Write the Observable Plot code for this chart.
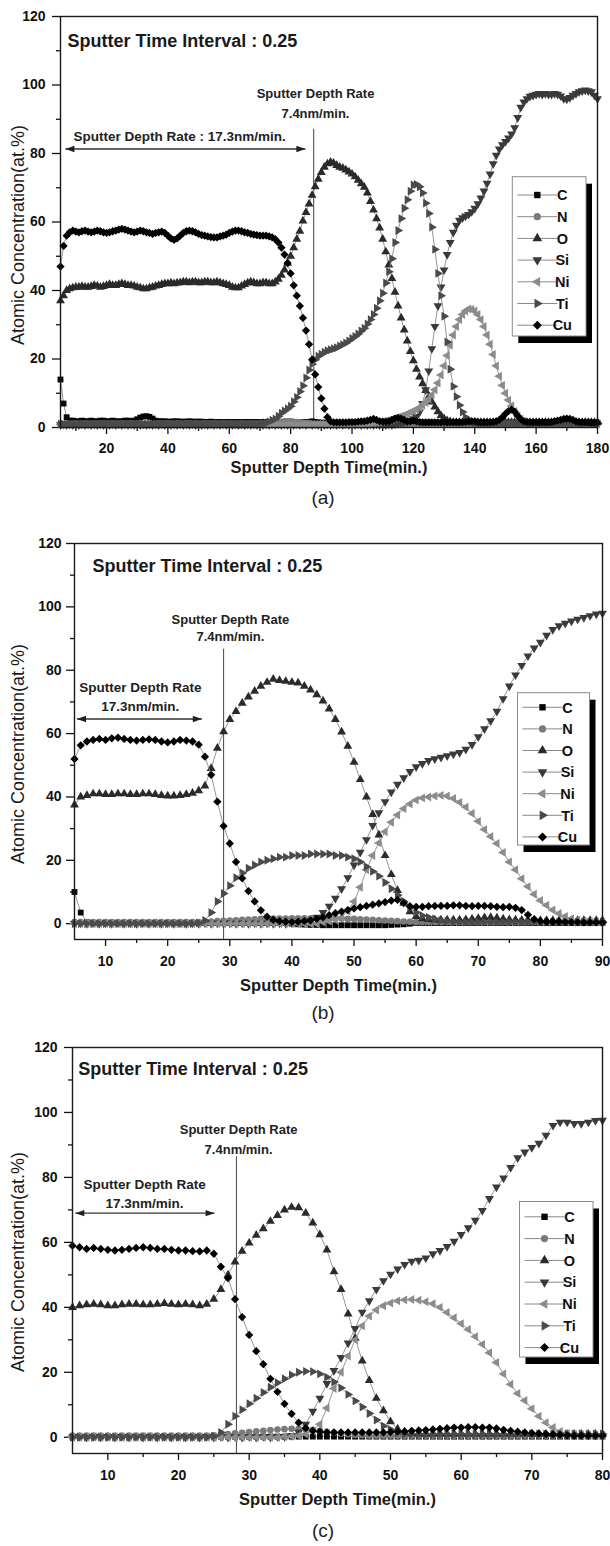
<!DOCTYPE html>
<html><head><meta charset="utf-8">
<script src="https://cdn.jsdelivr.net/npm/d3@7"></script>
<script src="https://cdn.jsdelivr.net/npm/@observablehq/plot@0.6"></script>
<style>
body{margin:0;background:#fff;width:610px;height:1546px;position:relative;overflow:hidden;font-family:"Liberation Sans",Arial,sans-serif}
.panel{position:absolute;left:0}
.cap{position:absolute;width:80px;text-align:center;font-size:19px;line-height:22px;color:#222}
</style></head><body>
<div id="pa" class="panel" style="top:0px"></div>
<div id="pb" class="panel" style="top:505px"></div>
<div id="pc" class="panel" style="top:1010px"></div>
<div class="cap" style="left:283px;top:487px">(a)</div>
<div class="cap" style="left:283px;top:1002px">(b)</div>
<div class="cap" style="left:283px;top:1520px">(c)</div>
<script>
// ---------- series names ----------
const elements = ["C","N","O","Si","Ni","Ti","Cu"];

// ---------- tick labels ----------
const xMajorA = [20,40,60,80,100,120,140,160,180];
const xMinorA = [10,30,50,70,90,110,130,150,170];
const xMajorB = [10,20,30,40,50,60,70,80,90];
const xMinorB = [15,25,35,45,55,65,75,85];
const xMajorC = [10,20,30,40,50,60,70,80];
const xMinorC = [15,25,35,45,55,65,75];
const yMajor = [0,20,40,60,80,100,120];
const yMinor = [10,30,50,70,90,110];

// ---------- panel (a): sputter time 5..180 min ----------
const timeA = d3.range(5, 181);
const C_a = [14,7,3,2,2,1.8,1.8,2,1.8,1.8,
 2,1.8,1.8,2,2,1.8,1.8,2,1.8,1.8,
 1.8,2,2,1.8,2,2.4,2.9,3.2,3.3,3.1,
 2.6,2,1.8,1.8,1.8,1.7,1.7,1.8,1.8,1.7,
 1.7,1.7,1.8,1.7,1.7,1.7,1.7,1.6,1.6,1.7,
 1.6,1.6,1.6,1.6,1.6,1.6,1.6,1.6,1.6,1.6,
 1.6,1.6,1.6,1.6,1.6,1.6,1.6,1.6,1.6,1.6,
 1.6,1.6,1.6,1.6,1.6,1.6,1.6,1.6,1.6,1.6,
 1.6,1.6,1.8,1.6,1.5,1.4,1.4,1.3,1.3,1.3,
 1.3,1.3,1.3,1.3,1.3,1.3,1.3,1.3,1.3,1.3,
 1.3,1.3,1.5,1.5,1.3,1.3,1.3,1.3,1.3,1.5,
 1.8,1.8,1.6,1.5,1.5,1.5,1.5,1.5,1.4,1.4,
 1.4,1.4,1.4,1.4,1.4,1.4,1.4,1.4,1.4,1.4,
 1.4,1.4,1.4,1.4,1.4,1.4,1.4,1.4,1.4,1.4,
 1.4,1.4,1.4,1.4,1.4,1.4,1.4,1.4,1.4,1.4,
 1.5,1.4,1.4,1.4,1.4,1.4,1.4,1.4,1.4,1.4,
 1.4,1.4,1.5,1.8,2,2,1.8,1.5,1.4,1.4,
 1.4,1.4,1.4,1.4,1.4,1.4];
const N_a = [1,1,1.1,1,1,1.1,1,1,1.1,1,
 1,1.1,1,1,1.1,1,1,1.1,1,1,
 1.1,1,1,1.1,1,1,1.1,1,1,1.1,
 1,1,1.1,1,1,1.1,1,1,1.1,1,
 1,1.1,1,1,1.1,1,1,1.1,1,1,
 1.1,1,1,1.1,1,1,1.1,1,1,1.1,
 1,1,1.1,1,1,1.1,1,1.2,1.3,1.4,
 1.5,1.6,1.7,1.8,1.8,1.8,1.7,1.6,1.5,1.4,
 1.3,1.2,1.1,1,1,1,1,1,1,1,
 1,1.1,1,1,1.1,1,1,1.1,1,1,
 1,1.1,1,1,1.1,1,1,1.1,1,1,
 1,1.1,1,1,1.1,1,1,1.1,1,1,
 1,1.1,1,1,1.1,1,1,1.1,1,1,
 1,1.1,1,1,1.1,1,1,1.1,1,1,
 1,1.1,1,1,1.1,1,1,1.1,1,1,
 1,1.1,1,1,1.1,1,1,1.1,1,1,
 1,1.1,1,1,1.1,1,1,1.1,1,1,
 1,1.1,1,1,1.1,1];
const O_a = [37,38.5,40,40.5,40.8,41,41,41.2,41,41,
 41.2,41.5,41.3,41,41.2,41.5,41.8,41.5,41.5,41.8,
 42,41.8,41.5,41.5,41.3,41,40.8,40.5,40.5,40.8,
 41,41.3,41.5,41.8,42,42,42.2,42,42.2,42.3,
 42.5,42.5,42.3,42.5,42.5,42.3,42.3,42.5,42.5,42.3,
 42.3,42.5,42.3,42,41.8,41.5,41,40.8,40.8,41.3,
 41.8,42.2,42.5,42.3,42,42,42.3,42.3,42,42,
 42.5,43.3,44.5,46,48,50,52.5,55,57.3,60.3,
 62.8,65.3,67.8,70.3,72.5,74.5,76,77,77.5,77.2,
 76.5,76,75.7,75.2,74.6,74,73.2,72.2,71.2,70.2,
 68.5,66,63.5,61,58.3,55,51.3,47.5,43.5,39.5,
 35.5,32,28.5,25.3,22.2,19.5,17,14.8,12.8,10.8,
 9,7.5,6,4.6,3.5,2.6,2,1.7,1.5,1.5,
 1.5,1.5,1.5,1.5,1.5,1.5,1.5,1.5,1.5,1.5,
 1.5,1.5,1.5,1.5,1.5,1.5,1.5,1.5,1.5,1.5,
 1.5,1.5,1.5,1.5,1.5,1.5,1.5,1.5,1.5,1.5,
 1.5,1.5,1.5,1.5,1.5,1.5,1.5,1.5,1.5,1.5,
 1.5,1.5,1.5,1.5,1.5,1.5];
const Si_a = [0.8,1,0.8,1,0.8,1,0.8,1,0.8,1,
 0.8,1,0.8,1,0.8,1,0.8,1,0.8,1,
 0.8,1,0.8,1,0.8,1,0.8,1,0.8,1,
 0.8,1,0.8,1,0.8,1,0.8,1,0.8,1,
 0.8,1,0.8,1,0.8,1,0.8,1,0.8,1,
 0.8,1,0.8,1,0.8,1,0.8,1,0.8,1,
 0.8,1,0.8,1,0.8,1,0.8,1,0.8,1,
 0.8,1,0.8,1,0.8,1,0.8,1,0.8,1,
 0.8,1,0.8,1,0.8,1,0.8,1,0.8,1,
 0.8,1,0.8,1,0.8,1,0.8,1,0.8,1,
 0.8,1,0.8,1,0.8,1,0.8,1,0.8,1,
 1.2,1.3,1.5,1.7,2,2.5,3.2,4.5,7,11,
 16.5,23,29.5,35.5,41,46,50.5,54,57,59,
 60.5,61.2,61.7,62.2,63,64,65.3,67,69,71.3,
 74,77,79.5,81.3,82.5,83.5,84.5,85.7,87.5,90.5,
 93.5,95,96,96.7,97,97.3,97.5,97.3,97.5,97.3,
 97.3,97.5,97.3,96.8,96,95.9,96.3,97,97.5,98,
 98.3,98.5,98.3,98,97,96];
const Ni_a = [0.9,0.9,0.9,0.9,0.9,0.9,0.9,0.9,0.9,0.9,
 0.9,0.9,0.9,0.9,0.9,0.9,0.9,0.9,0.9,0.9,
 0.9,0.9,0.9,0.9,0.9,0.9,0.9,0.9,0.9,0.9,
 0.9,0.9,0.9,0.9,0.9,0.9,0.9,0.9,0.9,0.9,
 0.9,0.9,0.9,0.9,0.9,0.9,0.9,0.9,0.9,0.9,
 0.9,0.9,0.9,0.9,0.9,0.9,0.9,0.9,0.9,0.9,
 0.9,0.9,0.9,0.9,0.9,0.9,0.9,0.9,0.9,0.9,
 0.9,0.9,0.9,0.9,0.9,0.9,0.9,0.9,0.9,0.9,
 0.9,0.9,0.9,0.9,0.9,0.9,0.9,0.9,0.9,0.9,
 0.9,0.9,0.9,0.9,0.9,0.9,0.9,0.9,0.9,1,
 1.1,1.2,1.3,1.4,1.5,1.7,1.9,2.1,2.4,2.7,
 3,3.3,3.6,4,4.4,4.8,5.3,5.8,6.5,7.3,
 8.3,9.5,11,13,15.3,18,21,24,27,29.5,
 31.5,33,34,34.6,34.5,34,33,31.5,29.5,27,
 24.3,21.3,18,15,12.3,10,8,6.3,4.7,3.4,
 2.4,1.8,1.4,1.2,1.1,1,1,1,1,1,
 1,1,1,1,1,1,1,1,1,1,
 1,1,1,1,1,1];
const Ti_a = [1,1,1,1,1,1,1,1,1,1,
 1,1,1,1,1,1,1,1,1,1,
 1,1,1,1,1,1,1,1,1,1,
 1,1,1,1,1,1,1,1,1,1,
 1,1,1,1,1,1,1,1,1,1,
 1,1,1,1,1,1,1,1,1,1,
 1,1,1,1,1,1.1,1.2,1.4,1.7,2.1,
 2.5,3.3,4.2,4.8,5.5,6.2,7.5,8.8,10.5,12.2,
 14.5,16.8,18.5,19.8,20.8,21.4,22,22.4,22.7,23,
 23.3,23.8,24.2,24.7,25.3,26,26.6,27.3,28.2,29,
 30.2,31.5,33,34.8,37,39.2,42.2,45.5,49.3,54,
 57.5,61,64,66.5,69,70.8,71,70.3,68.5,65.5,
 62.5,58.5,52,45,38.5,32.5,25,17,12,9,
 6.5,4.5,3,2,1.5,1.3,1.2,1.2,1.2,1.2,
 1.2,1.2,1.2,1.2,1.2,1.2,1.2,1.2,1.2,1.2,
 1.2,1.2,1.2,1.2,1.2,1.2,1.2,1.2,1.2,1.2,
 1.2,1.2,1.2,1.2,1.2,1.2,1.2,1.2,1.2,1.2,
 1.2,1.2,1.2,1.2,1.2,1.2];
const Cu_a = [47,53,56,57,57.5,57.2,57,57.3,57.5,57.2,
 57,57.2,57.5,57.3,57,56.8,57,57.3,57.5,57.8,
 58,57.8,57.5,57.2,57,57.2,57.5,57.3,57,56.8,
 56.5,56.8,57,57.2,56.8,56,55.2,54.8,55.2,56,
 56.8,57.3,57.5,57.3,57,56.5,56.2,56,55.8,55.6,
 55.5,55.5,55.8,56,56.3,56.8,57.2,57.5,57.5,57.3,
 57,56.8,56.5,56.3,56.2,56,56,56,55.8,55.5,
 55,54,52.5,50.5,48,45,41.5,38.5,35.5,32,
 28.3,24.3,19.8,15.5,11.8,8.5,5.5,3,1.8,1.5,
 1.5,1.5,1.5,1.5,1.6,1.6,1.6,1.7,1.8,1.8,
 2,2.2,2.5,2.2,1.8,1.7,1.7,1.8,2.2,2.6,
 2.8,2.6,2.2,1.8,1.8,2,1.8,1.6,1.5,1.5,
 1.5,1.5,1.5,1.5,1.5,1.5,1.5,1.5,1.5,1.5,
 1.5,1.5,1.6,1.8,1.8,1.8,1.6,1.5,1.5,1.5,
 1.5,1.6,1.8,2.2,3,4,4.8,5.2,4.6,3.4,
 2.4,1.8,1.6,1.5,1.5,1.5,1.5,1.5,1.5,1.5,
 1.6,1.8,2,2.2,2.5,2.6,2.5,2.2,1.8,1.6,
 1.5,1.5,1.5,1.4,1.4,1.4];

// ---------- panel (b): sputter time 5..90 min ----------
const timeB = d3.range(5, 91);
const C_b = [10,3.5,0.5,0.2,0.2,0.2,0.2,0.2,0.2,0.2,
 0.2,0.2,0.2,0.2,0.2,0.2,0.2,0.2,0.2,0.2,
 0.2,0.2,0.2,0.2,0.2,0.2,0.2,0.2,0.2,0.2,
 0.2,0.2,0.2,0.2,0.2,0,-0.2,-0.3,-0.4,-0.4,
 -0.5,-0.5,-0.5,-0.5,-0.5,-0.5,-0.5,-0.5,-0.5,-0.5,
 -0.5,-0.4,-0.3,-0.2,0,0.2,0.2,0.2,0.2,0.2,
 0.2,0.2,0.2,0.2,0.2,0.2,0.2,0.2,0.2,0.2,
 0.2,0.2,0.2,0.2,0.2,0.2,0.2,0.2,0.2,0.2,
 0.2,0.2,0.2,0.2,0.2,0.2];
const N_b = [0.5,0.5,0.5,0.5,0.5,0.5,0.5,0.5,0.5,0.5,
 0.5,0.5,0.5,0.5,0.5,0.5,0.5,0.5,0.5,0.5,
 0.5,0.6,0.7,0.8,0.9,1,1.1,1.2,1.3,1.4,
 1.5,1.5,1.6,1.6,1.6,1.7,1.7,1.7,1.7,1.7,
 1.7,1.7,1.6,1.6,1.5,1.5,1.4,1.3,1.2,1.1,
 1,0.9,0.8,0.7,0.6,0.5,0.5,0.5,0.5,0.5,
 0.5,0.5,0.5,0.5,0.5,0.5,0.5,0.5,0.5,0.5,
 0.5,0.5,0.5,0.5,0.5,0.5,0.5,0.5,0.5,0.5,
 0.5,0.5,0.5,0.5,0.5,0.5];
const O_b = [37.5,40,40.5,41,41,40.8,40.8,41,41,40.8,
 40.8,41,41,40.8,40.5,40.3,40.3,40.5,40.8,41.2,
 42,43.5,49,55.4,60.6,64.5,67,69.6,71.6,73.4,
 75,76.2,77.2,76.8,76.5,76.2,76,75,73.8,72.3,
 70.3,67.8,64.5,60.5,56,51,45.5,40,34.5,28,
 21.5,15.5,10.5,6.5,3.8,2.3,1.6,1.3,1.2,1.2,
 1.2,1.2,1.2,1.3,1.5,1.7,1.9,2,1.8,1.5,
 1.3,1.2,1.1,1,1,1,1,1,1,1,
 1,1,1,1,1,1];
const Si_b = [0,0.2,0,0.2,0,0.2,0,0.2,0,0.2,
 0,0.2,0,0.2,0,0.2,0,0.2,0,0.2,
 0,0.2,0,0.2,0,0.2,0,0.2,0,0.2,
 0,0.2,0,0.2,0,0.2,0.3,0.5,1,2,
 3.5,5.5,8,11,14.5,18.5,22.5,26.5,31,35,
 38.5,41.5,44,46,48,49.5,50.5,51.5,52,52.5,
 53,53.5,54,55,56.5,59,61.5,64,67,71,
 75,78.5,81.5,84.5,87,88.8,91,92.8,94,94.8,
 95.5,96.1,96.6,97.2,97.7,98];
const Ni_b = [0,0,0,0,0,0,0,0,0,0,
 0,0,0,0,0,0,0,0,0,0,
 0,0,0,0,0,0,0,0,0,0,
 0,0,0,0,0,0,0,0,0,0,
 0.5,0.8,1.2,2,4,7,11.5,17,21.5,25.5,
 29,32,34.3,36.3,37.8,39,39.7,40,40.3,40.5,
 40.3,39.5,38.3,36.8,34.8,32.3,29.7,27.5,25.3,22.5,
 19.5,17,14.2,11.7,9.3,7.3,5.8,4.3,3.2,2.3,
 1.6,1.1,0.8,0.6,0.5,0.5];
const Ti_b = [0,0,0,0,0,0,0,0,0,0,
 0,0,0,0,0,0,0,0,0,0,
 0.2,1,3.5,7,9.5,12,14.5,16,17.5,18.5,
 19.5,20,20.5,21,21,21.5,21.5,21.5,22,22,
 22,22,21.5,21.5,21,20.5,19.5,18,16.5,15,
 13,11,9,7,5,3.5,2.5,2,1.5,1,
 0.8,0.6,0.5,0.5,0.5,0.5,0.5,0.5,0.5,0.5,
 0.5,0.5,0.5,0.5,0.5,0.5,0.5,0.5,0.5,0.5,
 0.5,0.5,0.5,0.5,0.5,0.5];
const Cu_b = [52,56.3,57.5,58,58.3,58,58.5,58.7,58.3,58,
 57.8,58,58.2,58,57.5,57.2,57.5,58,57.8,57.5,
 56.5,52.7,47,38.5,30.8,25.3,19.5,14.3,10.3,7,
 4.2,2.2,1.2,0.8,0.6,0.5,0.6,0.8,1,1.5,
 2,2.7,3.3,3.8,4.3,4.8,5.2,5.6,6,6.4,
 6.8,7.3,7.5,6.5,5.5,5.3,5.3,5.5,5.6,5.6,
 5.6,5.8,5.8,5.6,5.5,5.6,5.6,5.5,5.3,5.2,
 5.3,5,4.3,2.8,1.4,0.8,0.6,0.6,0.6,0.5,
 0.5,0.5,0.4,0.4,0.4,0.3];

// ---------- panel (c): sputter time 5..80 min ----------
const timeC = d3.range(5, 81);
const C_c = [0.2,0.2,0.2,0.2,0.2,0.2,0.2,0.2,0.2,0.2,
 0.2,0.2,0.2,0.2,0.2,0.2,0.2,0.2,0.2,0.2,
 0.2,0.2,0.2,0.2,0.2,0.2,0.2,0.2,0.2,0.2,
 0.2,0.2,0.2,0.2,0.2,0.2,0.2,0.2,0.2,0.2,
 0.2,0.2,0.2,0.2,0.2,0.2,0.2,0.2,0.2,0.2,
 0.2,0.2,0.2,0.2,0.2,0.2,0.2,0.2,0.2,0.2,
 0.2,0.2,0.2,0.2,0.2,0.2,0.2,0.2,0.2,0.2,
 0.2,0.2,0.2,0.2,0.2,0.2];
const N_c = [0.5,0.5,0.5,0.5,0.5,0.5,0.5,0.5,0.5,0.5,
 0.5,0.5,0.5,0.5,0.5,0.5,0.5,0.5,0.5,0.5,
 0.6,0.8,1,1.2,1.4,1.6,1.8,2,2.2,2.4,
 2.5,2.6,2.6,2.5,2.3,2,1.7,1.4,1.1,0.9,
 0.7,0.6,0.5,0.5,0.5,0.5,0.5,0.5,0.5,0.5,
 0.5,0.5,0.5,0.5,0.5,0.5,0.5,0.5,0.5,0.5,
 0.5,0.5,0.5,0.5,0.5,0.5,0.5,0.5,0.5,0.5,
 0.5,0.5,0.5,0.5,0.5,0.5];
const O_c = [40,40.5,40.8,41,40.8,40.5,40.5,40.8,41,41,
 40.8,40.8,41,41.2,41,40.8,41,40.8,40.5,41,
 42.5,45.5,50,54,57.3,59.8,62.2,64.2,66.5,68.3,
 70,70.8,70.7,69,66,62.4,57.7,51,45.5,38,
 30.5,23.5,17.5,12,8.2,4.8,2.6,1.6,1.2,1,
 1,1,1,1,1,1,1,1,1,1,
 1,1,1,1,1,1,1,1,1,1,
 1,1,1,1,1,1];
const Si_c = [0,0.2,0,0.2,0,0.2,0,0.2,0,0.2,
 0,0.2,0,0.2,0,0.2,0,0.2,0,0.2,
 0,0.2,0,0.2,0,0.2,0,0.2,0,0.2,
 0.2,0.5,1.5,4,8,12,16.5,20.5,24.5,29,
 33.5,38.5,42,45.5,48.2,50.2,51.8,53.2,54.2,54.5,
 55.2,56.5,57.5,58.7,60.3,62.4,64.5,66.8,69.8,73.5,
 77,79.8,83,86,87.8,89.2,90.5,93,96,97,
 97,96.6,96.6,97,97.5,97.6];
const Ni_c = [0,0,0,0,0,0,0,0,0,0,
 0,0,0,0,0,0,0,0,0,0,
 0,0,0,0,0,0,0,0,0,0,
 0.2,0.3,0.5,1,2,4,9,15,20,25,
 30,34.3,37.3,39.2,40.5,41.3,42,42.3,42.4,42.2,
 41.7,41.1,40,38.4,36.8,35,33.2,31,28.6,26,
 23,19.5,16.3,13.5,11.3,8.8,6.5,4.5,3,1.8,
 1.2,0.9,0.7,0.6,0.6,0.6];
const Ti_c = [0,0,0,0,0,0,0,0,0,0,
 0,0,0,0,0,0,0,0,0,0,
 0.3,1.5,4,6.5,8.5,10.3,12,13.8,15.4,16.8,
 18,19.2,20,20.3,20.2,19.5,18.5,17,15.2,13.2,
 11.2,9.3,7.3,5.3,3.5,2.4,1.5,1,1,1,
 1,1,1,1,1,1,1,1,1,1,
 1,1,1,1,1,1,1,1,1,1,
 1,1,1,1,1,1];
const Cu_c = [59,58.5,58,58.3,58,57.7,57.5,57.7,58,58.3,
 58.5,58.3,58,58,57.7,57.5,57.5,57.3,57.2,57.5,
 56.5,52.5,49,42.5,37,31.5,26.5,22.5,18,14,
 10.3,7.2,4.5,2.8,2,1.7,1.5,1.5,1.5,1.5,
 1.5,1.5,1.5,1.5,1.5,1.6,1.7,1.8,2,2.1,
 2.2,2.4,2.6,2.8,3,3,3.1,3.1,3,3,
 2.7,2.3,2,1.7,1.5,1.3,1.1,1,0.9,0.8,
 0.6,0.5,0.5,0.5,0.5,0.5];

// ---------- annotation texts ----------
const intervalText = "Sputter Time Interval : 0.25";
const rate2Lines = ["Sputter Depth Rate", "7.4nm/min."];
const rate1Single = "Sputter Depth Rate : 17.3nm/min.";
const rate1Lines = ["Sputter Depth Rate", "17.3nm/min."];
const xTitle = "Sputter Depth Time(min.)";
const yTitle = "Atomic Concentration(at.%)";

// ---------- styles ----------
const sqrt3 = Math.sqrt(3);
function tri(dir){
  return {draw(ctx, size){
    const y = -Math.sqrt(size / (sqrt3 * 3));
    let p;
    if (dir === "up") p = [[0,2*y],[-sqrt3*y,-y],[sqrt3*y,-y]];
    else if (dir === "down") p = [[0,-2*y],[-sqrt3*y,y],[sqrt3*y,y]];
    else if (dir === "left") p = [[2*y,0],[-y,-sqrt3*y],[-y,sqrt3*y]];
    else p = [[-2*y,0],[y,-sqrt3*y],[y,sqrt3*y]];
    ctx.moveTo(p[0][0],p[0][1]); ctx.lineTo(p[1][0],p[1][1]); ctx.lineTo(p[2][0],p[2][1]); ctx.closePath();
  }};
}
const diamond = {draw(ctx, size){ const h = Math.sqrt(size/2); ctx.moveTo(0,-h); ctx.lineTo(h,0); ctx.lineTo(0,h); ctx.lineTo(-h,0); ctx.closePath(); }};
const headL = {draw(ctx){ ctx.moveTo(0,0); ctx.lineTo(9,-3.2); ctx.lineTo(9,3.2); ctx.closePath(); }};
const headR = {draw(ctx){ ctx.moveTo(0,0); ctx.lineTo(-9,-3.2); ctx.lineTo(-9,3.2); ctx.closePath(); }};
const SYM = {C: d3.symbolSquare, N: d3.symbolCircle, O: tri("up"), Si: tri("down"), Ni: tri("left"), Ti: tri("right"), Cu: diamond};
const COL = {C:"#050505", N:"#7a7a7a", O:"#2a2a2a", Si:"#3a3a3a", Ni:"#8c8c8c", Ti:"#4a4a4a", Cu:"#000000"};
const LINE = "#8a8a8a";
const FONT = '"Liberation Sans", Arial, Helvetica, sans-serif';

const panels = [
  {id:"pa", t:timeA, s:{C:C_a,N:N_a,O:O_a,Si:Si_a,Ni:Ni_a,Ti:Ti_a,Cu:Cu_a},
   height:480, mt:16, mb:53, ml:60, mr:13, xdom:[5,180], ydom:[0,120],
   xMajor:xMajorA, xMinor:xMinorA, xPad:9, yPad:7, xTitleDy:45, yTitleX:17.5, yTitleY:235,
   title:{x:7.3, y:112.7}, r2:{x:88.1, y1:97.3, y2:91.5}, vline:{x:87.5, y1:0, y2:87.1},
   r1:{x:43.8, ys:[84.9]}, arrow:{x1:6.6, x2:84.8, y:81.3}, single:true,
   legend:{x:512.3, y:176.7, w:73.7, h:159.3, first:18.3, step:21.7}},
  {id:"pb", t:timeB, s:{C:C_b,N:N_b,O:O_b,Si:Si_b,Ni:Ni_b,Ti:Ti_b,Cu:Cu_b},
   height:500, mt:38, mb:66, ml:74, mr:8, xdom:[5,90], ydom:[-5,120],
   xMajor:xMajorB, xMinor:xMinorB, xPad:10, yPad:5, xTitleDy:51, yTitleX:17.5, yTitleY:249,
   title:{x:7.9, y:112.9}, r2:{x:30.1, y1:96, y2:90.5}, vline:{x:29, y1:-5, y2:86.6},
   r1:{x:15.6, ys:[74.4, 68.5]}, arrow:{x1:5.4, x2:25.5, y:64.6}, single:false,
   legend:{x:517.5, y:187.7, w:72, h:152.3, first:14.6, step:21.6}},
  {id:"pc", t:timeC, s:{C:C_c,N:N_c,O:O_c,Si:Si_c,Ni:Ni_c,Ti:Ti_c,Cu:Cu_c},
   height:515, mt:37, mb:72, ml:72, mr:8, xdom:[5,80], ydom:[-5,120],
   xMajor:xMajorC, xMinor:xMinorC, xPad:10, yPad:7, xTitleDy:51, yTitleX:17.5, yTitleY:252,
   title:{x:5.8, y:113.4}, r2:{x:28.5, y1:94.5, y2:88.4}, vline:{x:28.2, y1:-5, y2:86.4},
   r1:{x:15.2, ys:[77.7, 71.9]}, arrow:{x1:5.4, x2:25.1, y:69}, single:false,
   legend:{x:519.5, y:191.5, w:73.5, h:155.5, first:15.3, step:21.8}}
];

for (const P of panels) {
  for (const e of elements) if (P.s[e].length !== P.t.length) throw new Error(P.id + " " + e + " length " + P.s[e].length + " vs " + P.t.length);
  const marks = [];
  const axisStyle = {color:"#111", strokeWidth:1.3, fontSize:14, fontWeight:"bold", label:null};
  marks.push(Plot.axisX(P.xMinor, {...axisStyle, tickSize:4, tickFormat:() => ""}));
  marks.push(Plot.axisX(P.xMajor, {...axisStyle, tickSize:7, tickPadding:P.xPad}));
  marks.push(Plot.axisY(yMinor, {...axisStyle, tickSize:4, tickFormat:() => ""}));
  marks.push(Plot.axisY(yMajor, {...axisStyle, tickSize:8, tickPadding:P.yPad}));
  // annotation: vertical line and double arrow
  marks.push(Plot.ruleX([P.vline], {x:"x", y1:"y1", y2:"y2", stroke:"#555", strokeWidth:1.1}));
  marks.push(Plot.link([P.arrow], {x1:"x1", x2:"x2", y1:"y", y2:"y", stroke:"#333", strokeWidth:1.4}));
  marks.push(Plot.dot([P.arrow], {x:"x1", y:"y", symbol:headL, r:3, fill:"#222"}));
  marks.push(Plot.dot([P.arrow], {x:"x2", y:"y", symbol:headR, r:3, fill:"#222"}));
  // series
  for (const e of elements) {
    const rows = P.t.map((x, i) => ({t:x, v:P.s[e][i]}));
    marks.push(Plot.line(rows, {x:"t", y:"v", stroke:LINE, strokeWidth:0.9}));
    marks.push(Plot.dot(rows, {x:"t", y:"v", symbol:SYM[e], r:3.3, fill:COL[e], stroke:"none"}));
  }
  // texts
  marks.push(Plot.text([intervalText], {x:() => P.title.x, y:() => P.title.y, text:d => d, textAnchor:"start", fontSize:18, fontWeight:"bold", fill:"#1a1a1a"}));
  marks.push(Plot.text([{s:rate2Lines[0], y:P.r2.y1}, {s:rate2Lines[1], y:P.r2.y2}], {x:() => P.r2.x, y:"y", text:"s", fontSize:13, fontWeight:"bold", fill:"#222"}));
  const r1 = P.single ? [{s:rate1Single, y:P.r1.ys[0]}] : [{s:rate1Lines[0], y:P.r1.ys[0]}, {s:rate1Lines[1], y:P.r1.ys[1]}];
  marks.push(Plot.text(r1, {x:() => P.r1.x, y:"y", text:"s", fontSize:13.5, fontWeight:"bold", fill:"#222"}));
  marks.push(Plot.text([xTitle], {frameAnchor:"bottom", dy:P.xTitleDy, text:d => d, fontSize:16.5, fontWeight:"bold", fill:"#1a1a1a"}));
  marks.push(Plot.frame({stroke:"#1a1a1a", strokeWidth:1.4}));

  const svg = Plot.plot({
    width:610, height:P.height,
    marginTop:P.mt, marginBottom:P.mb, marginLeft:P.ml, marginRight:P.mr,
    style:{fontFamily:FONT, background:"transparent", overflow:"visible"},
    x:{domain:P.xdom, label:null},
    y:{domain:P.ydom, label:null},
    marks
  });

  // y-axis title (rotated)
  d3.select(svg).append("text")
    .attr("transform", `translate(${P.yTitleX},${P.yTitleY}) rotate(-90)`)
    .attr("text-anchor", "middle").attr("dy", "0.35em")
    .attr("font-family", FONT).attr("font-size", 18).attr("fill", "#1a1a1a")
    .text(yTitle);

  // legend (inside frame, Origin style with drop shadow)
  const L = P.legend;
  const g = d3.select(svg).append("g").attr("font-family", FONT);
  g.append("rect").attr("x", L.x+6).attr("y", L.y+7).attr("width", L.w).attr("height", L.h).attr("fill", "#000");
  g.append("rect").attr("x", L.x).attr("y", L.y).attr("width", L.w).attr("height", L.h).attr("fill", "#fff").attr("stroke", "#8a8a8a").attr("stroke-width", 1);
  elements.forEach((e, i) => {
    const y = L.y + L.first + i * L.step;
    g.append("line").attr("x1", L.x+5).attr("x2", L.x+45).attr("y1", y).attr("y2", y).attr("stroke", LINE).attr("stroke-width", 1);
    g.append("path").attr("d", d3.symbol(SYM[e], Math.PI*3.6*3.6)()).attr("transform", `translate(${L.x+25},${y})`).attr("fill", COL[e]);
    g.append("text").attr("x", L.x+50).attr("y", y).attr("dy", "0.36em").attr("font-size", 14.5).attr("font-weight", "bold").attr("fill", "#111").text(e);
  });
  document.getElementById(P.id).appendChild(svg);
}
</script>
</body></html>
